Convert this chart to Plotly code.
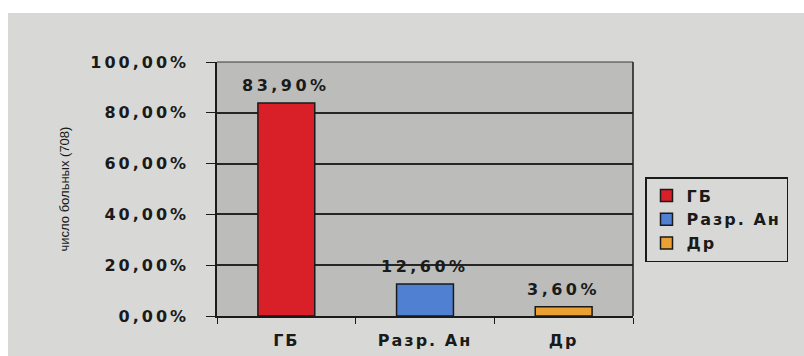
import plotly.graph_objects as go

# Distribution of patients (n = 708) by diagnosis group
categories = ["ГБ", "Разр. Ан", "Др"]
shares = [83.9, 12.6, 3.6]
value_labels = ["83,90%", "12,60%", "3,60%"]
bar_colors = ["#d92028", "#4f80d2", "#eaa032"]
tick_values = [0, 20, 40, 60, 80, 100]
tick_labels = ["0,00%", "20,00%", "40,00%", "60,00%", "80,00%", "100,00%"]

W, H = 804, 356
L, R, T, B = 217, 633, 62, 316  # plot area edges in pixels
FONT = "DejaVu Sans"
INK = "#1a1a1a"


def wide(s, spacing=3):
    """Wrap a label so it is drawn with extra letter spacing."""
    return f'<span style="letter-spacing:{spacing}px">{s}</span>'


fig = go.Figure()
for cat, val, lab, col in zip(categories, shares, value_labels, bar_colors):
    fig.add_trace(go.Bar(
        x=[cat], y=[val], name=wide(cat, 2),
        marker=dict(color=col, line=dict(color=INK, width=1.5)),
        width=0.41, offset=-0.205,
    ))
    # value label above the bar
    fig.add_annotation(
        x=cat, y=val, xref="x", yref="y", text=wide(lab, 3.5),
        showarrow=False, yanchor="bottom", xanchor="center", yshift=6,
        font=dict(family=FONT, size=16, color=INK, weight="bold"),
    )


def px_to_paper_x(px):
    return (px - L) / (R - L)


def px_to_paper_y(py):
    return (B - py) / (B - T)


# white borders around the sheet
fig.add_shape(type="rect", xref="paper", yref="paper",
              x0=px_to_paper_x(0), x1=px_to_paper_x(W),
              y0=px_to_paper_y(13), y1=px_to_paper_y(0),
              fillcolor="white", line_width=0, layer="above")
fig.add_shape(type="rect", xref="paper", yref="paper",
              x0=px_to_paper_x(0), x1=px_to_paper_x(8),
              y0=px_to_paper_y(H), y1=px_to_paper_y(0),
              fillcolor="white", line_width=0, layer="above")

# right and top borders of the plot area
fig.add_shape(type="line", xref="paper", yref="paper", x0=1, x1=1, y0=0, y1=1,
              line=dict(color=INK, width=1.5))
fig.add_shape(type="line", xref="paper", yref="paper", x0=0, x1=1, y0=1, y1=1,
              line=dict(color="#3a3a3a", width=1))

fig.update_layout(
    width=W, height=H,
    margin=dict(l=L, r=W - R, t=T, b=H - B, autoexpand=False),
    paper_bgcolor="#d8d9d7",
    plot_bgcolor="#bcbdbb",
    barmode="overlay",
    showlegend=True,
    legend=dict(
        x=px_to_paper_x(645), y=px_to_paper_y(177), xanchor="left", yanchor="top",
        bgcolor="rgba(0,0,0,0)", bordercolor=INK, borderwidth=1.5,
        font=dict(family=FONT, size=16, color=INK, weight="bold"),
        itemwidth=30, tracegroupgap=0,
    ),
    font=dict(family=FONT, color=INK),
)
fig.update_xaxes(
    type="category", categoryorder="array", categoryarray=categories,
    tickvals=categories, ticktext=[wide(c, 2) for c in categories],
    showline=True, linecolor=INK, linewidth=1.5,
    ticks="outside", tickson="boundaries", ticklen=6, tickcolor=INK,
    ticklabelstandoff=9, automargin=False,
    tickfont=dict(family=FONT, size=16, color=INK, weight="bold"),
    showgrid=False,
)
fig.update_yaxes(
    range=[0, 100], tickvals=tick_values, ticktext=[wide(t) for t in tick_labels],
    showline=True, linecolor=INK, linewidth=1.5,
    ticks="outside", ticklen=9, tickcolor=INK,
    ticklabelstandoff=14, automargin=False,
    tickfont=dict(family=FONT, size=16, color=INK, weight="bold"),
    showgrid=True, gridcolor="#262626", gridwidth=1.6,
    zeroline=False,
    title=dict(text="число больных (708)", standoff=18,
               font=dict(family="Liberation Sans", size=13, color=INK)),
)

fig.write_html("out.html")
